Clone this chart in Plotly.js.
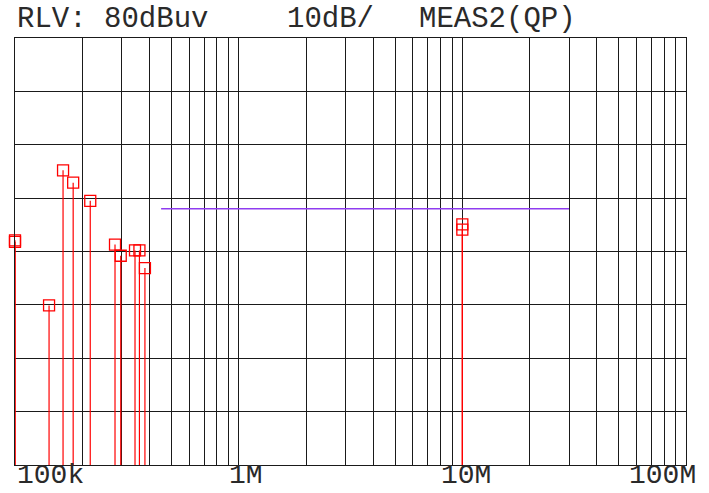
<!DOCTYPE html>
<html>
<head>
<meta charset="utf-8">
<script src="https://cdn.plot.ly/plotly-3.0.1.min.js"></script>
<style>html,body{margin:0;padding:0;background:#fff;}#chart{width:709px;height:493px;}</style>
</head>
<body>
<div id="chart"></div>
<script>
// Measured peaks (QP), frequency in Hz, level in dBuV
const freqs  = [1.0e5, 1.0e5, 1.42e5, 1.64e5, 1.82e5, 2.17e5, 2.80e5, 2.97e5, 3.44e5, 3.60e5, 3.81e5, 1.0e7, 1.0e7];
const levels = [42.1, 41.8, 29.9, 55.2, 52.9, 49.5, 41.3, 39.2, 40.2, 40.2, 36.9, 45.1, 44.1];

// Limit line
const limitFreqs  = [4.5e5, 3.0e7];
const limitLevels = [48, 48];

// Axis labels
const xLabelText = ["100k", "1M", "10M", "100M"];
const xLabelLeftPx = [16, 228, 440, 628];
const headerText = ["RLV: 80dBuv", "10dB/", "MEAS2(QP)"];
const headerLeftPx = [16, 286, 418];

const L = 15, R = 686, T = 38, B = 465;
const W = R - L, H = B - T;

const gridVals = [];
for (let d = 5; d <= 8; d++) {
  for (let m = 1; m <= 9; m++) {
    const v = m * Math.pow(10, d);
    if (v <= 1e8) gridVals.push(v);
  }
}

const mono = "'Courier New', 'Liberation Mono', monospace";

const annotations = [];
xLabelText.forEach((t, i) => {
  annotations.push({
    text: t, xref: 'paper', yref: 'paper',
    x: (xLabelLeftPx[i] - L) / W, y: (B - 492) / H,
    xanchor: 'left', yanchor: 'bottom', showarrow: false,
    font: {family: mono, size: 28, color: '#2a2a2a'}, borderpad: 0
  });
});
headerText.forEach((t, i) => {
  annotations.push({
    text: t, xref: 'paper', yref: 'paper',
    x: (headerLeftPx[i] - L) / W, y: (B - 20) / H,
    xanchor: 'left', yanchor: 'middle', showarrow: false,
    font: {family: mono, size: 29, color: '#2a2a2a'}, borderpad: 0
  });
});

const traces = [
  {
    x: limitFreqs, y: limitLevels, type: 'scatter', mode: 'lines',
    line: {color: '#8f3cf0', width: 1.5}, hoverinfo: 'skip', cliponaxis: false
  },
  {
    x: freqs, y: levels, type: 'scatter', mode: 'markers',
    marker: {symbol: 'square-open', size: 11, color: '#ff0000', line: {width: 1.3, color: '#ff0000'}},
    error_y: {type: 'data', symmetric: false, array: levels.map(() => 0), arrayminus: levels,
              width: 0, thickness: 1.2, color: '#ff0000'},
    cliponaxis: false
  }
];

const layout = {
  width: 709, height: 493,
  margin: {l: L, r: 709 - R, t: T, b: 493 - B, pad: 0},
  paper_bgcolor: '#fff', plot_bgcolor: '#fff',
  showlegend: false,
  xaxis: {
    type: 'log', range: [5, 8], tickmode: 'array', tickvals: gridVals,
    showticklabels: false, ticks: '', showgrid: true, gridcolor: '#1a1a1a', gridwidth: 1,
    zeroline: false, showline: true, linecolor: '#1a1a1a', linewidth: 1, mirror: true, fixedrange: true
  },
  yaxis: {
    range: [0, 80], tickmode: 'linear', tick0: 0, dtick: 10,
    showticklabels: false, ticks: '', showgrid: true, gridcolor: '#1a1a1a', gridwidth: 1,
    zeroline: false, showline: true, linecolor: '#1a1a1a', linewidth: 1, mirror: true, fixedrange: true
  },
  annotations: annotations
};

Plotly.newPlot('chart', traces, layout, {displayModeBar: false, staticPlot: true});
</script>
</body>
</html>
